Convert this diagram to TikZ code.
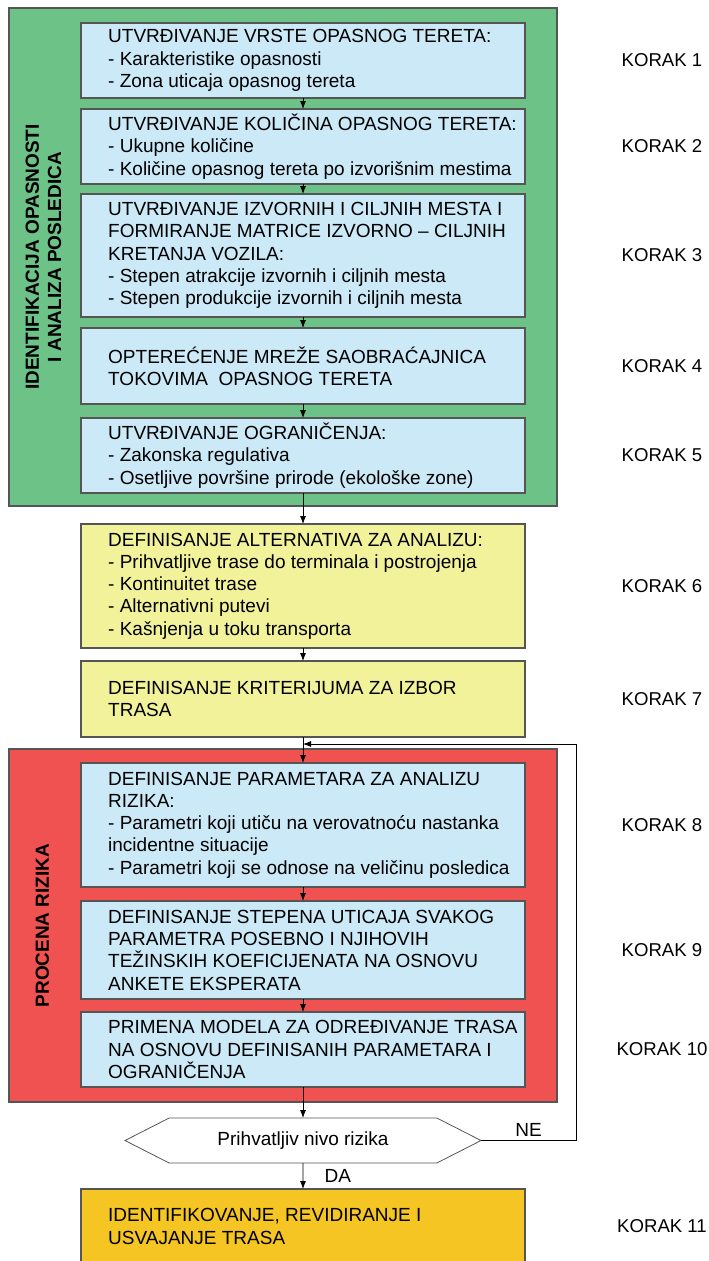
\documentclass[tikz,border=0pt]{standalone}
\usepackage{fontspec}
\setmainfont{Liberation Sans}
\usetikzlibrary{positioning,shapes.symbols,arrows.meta,backgrounds,fit}
\definecolor{zelena}{RGB}{108,194,135}
\definecolor{plava}{RGB}{204,233,248}
\definecolor{zuta}{RGB}{242,242,154}
\definecolor{crvena}{RGB}{240,82,82}
\definecolor{narandz}{RGB}{245,198,35}
\definecolor{ivica}{RGB}{85,85,85}
\newcommand{\velic}{\fontsize{19pt}{22.3pt}\selectfont}

\begin{document}
\begin{tikzpicture}[x=1pt, y=1pt, node distance=11pt, font=\velic,
    box/.style={draw=ivica, line width=1.2pt, minimum width=444pt, inner sep=0pt, outer sep=0pt},
    txt/.style={align=left, inner sep=0pt},
    korak/.style={inner sep=0pt, font=\fontsize{18.6pt}{22pt}\selectfont},
    okvir/.style={draw=ivica, line width=1.2pt, inner sep=0pt},
    vert/.style={rotate=90, align=center, font=\velic\bfseries, inner sep=0pt},
    hexa/.style={signal, signal to=east and west, draw=ivica, fill=white, outer sep=0pt,
        line width=0.8pt, minimum width=356pt, minimum height=45pt, signal pointer angle=54},
    arr/.style={-{Latex[length=8pt,width=6pt]}, line width=0.8pt}]
\useasboundingbox (0,0) rectangle (709,-1261);

% koraci 1-5
\node[box, fill=plava, minimum height=75pt] (k1) at (303,-60.5) {};
\node[box, fill=plava, minimum height=75pt, below=11pt of k1] (k2) {};
\node[box, fill=plava, minimum height=123pt, below=10pt of k2] (k3) {};
\node[box, fill=plava, minimum height=76pt, below=11pt of k3] (k4) {};
\node[box, fill=plava, minimum height=75pt, below=14pt of k4] (k5) {};
% koraci 6-7
\node[box, fill=zuta, minimum height=124pt, below=31pt of k5] (k6) {};
\node[box, fill=zuta, minimum height=76pt, below=13pt of k6] (k7) {};
% koraci 8-10
\node[box, fill=plava, minimum height=124pt, below=26pt of k7] (k8) {};
\node[box, fill=plava, minimum height=98pt, below=14pt of k8] (k9) {};
\node[box, fill=plava, minimum height=75pt, below=13pt of k9] (k10) {};
\node[hexa, below=31pt of k10] (hx) {Prihvatljiv nivo rizika};
\node[box, fill=narandz, minimum height=75pt, below=26pt of hx] (k11) {};

\begin{scope}[on background layer]
\node[okvir, fill=zelena, fit={([xshift=-72pt,yshift=15pt]k1.north west) ([xshift=32pt,yshift=-13pt]k5.south east)}] (zel) {};
\node[okvir, fill=crvena, fit={([xshift=-72pt,yshift=14pt]k8.north west) ([xshift=32pt,yshift=-15pt]k10.south east)}] (crv) {};
\end{scope}
\node[vert] (gz) at ([xshift=35pt]zel.west) {IDENTIFIKACIJA OPASNOSTI\\I ANALIZA POSLEDICA};
\node[vert] (gc) at ([xshift=34pt]crv.west) {PROCENA RIZIKA};

% tekst u kutijama
\node[txt, right=27pt of k1.west] (t1) {UTVRĐIVANJE VRSTE OPASNOG TERETA:\\- Karakteristike opasnosti\\- Zona uticaja opasnog tereta};
\node[txt, right=27pt of k2.west] (t2) {UTVRĐIVANJE KOLIČINA OPASNOG TERETA:\\- Ukupne količine\\- Količine opasnog tereta po izvorišnim mestima};
\node[txt, right=27pt of k3.west] (t3) {UTVRĐIVANJE IZVORNIH I CILJNIH MESTA I\\FORMIRANJE MATRICE IZVORNO – CILJNIH\\KRETANJA VOZILA:\\- Stepen atrakcije izvornih i ciljnih mesta\\- Stepen produkcije izvornih i ciljnih mesta};
\node[txt, right=27pt of k4.west] (t4) {OPTEREĆENJE MREŽE SAOBRAĆAJNICA\\TOKOVIMA~ OPASNOG TERETA};
\node[txt, right=27pt of k5.west] (t5) {UTVRĐIVANJE OGRANIČENJA:\\- Zakonska regulativa\\- Osetljive površine prirode (ekološke zone)};
\node[txt, right=27pt of k6.west] (t6) {DEFINISANJE ALTERNATIVA ZA ANALIZU:\\- Prihvatljive trase do terminala i postrojenja\\- Kontinuitet trase\\- Alternativni putevi\\- Kašnjenja u toku transporta};
\node[txt, right=27pt of k7.west] (t7) {DEFINISANJE KRITERIJUMA ZA IZBOR\\TRASA};
\node[txt, right=27pt of k8.west] (t8) {DEFINISANJE PARAMETARA ZA ANALIZU\\RIZIKA:\\- Parametri koji utiču na verovatnoću nastanka\\incidentne situacije\\- Parametri koji se odnose na veličinu posledica};
\node[txt, right=27pt of k9.west] (t9) {DEFINISANJE STEPENA UTICAJA SVAKOG\\PARAMETRA POSEBNO I NJIHOVIH\\TEŽINSKIH KOEFICIJENATA NA OSNOVU\\ANKETE EKSPERATA};
\node[txt, right=27pt of k10.west] (t10) {PRIMENA MODELA ZA ODREĐIVANJE TRASA\\NA OSNOVU DEFINISANIH PARAMETARA I\\OGRANIČENJA};
\node[txt, right=27pt of k11.west] (t11) {IDENTIFIKOVANJE, REVIDIRANJE I\\USVAJANJE TRASA};

% oznake koraka
\node[korak] (l1) at ([xshift=137pt]k1.east) {KORAK 1};
\node[korak] (l2) at ([xshift=137pt]k2.east) {KORAK 2};
\node[korak] (l3) at ([xshift=137pt]k3.east) {KORAK 3};
\node[korak] (l4) at ([xshift=137pt]k4.east) {KORAK 4};
\node[korak] (l5) at ([xshift=137pt]k5.east) {KORAK 5};
\node[korak] (l6) at ([xshift=137pt]k6.east) {KORAK 6};
\node[korak] (l7) at ([xshift=137pt]k7.east) {KORAK 7};
\node[korak] (l8) at ([xshift=137pt]k8.east) {KORAK 8};
\node[korak] (l9) at ([xshift=137pt]k9.east) {KORAK 9};
\node[korak] (l10) at ([xshift=137pt]k10.east) {KORAK 10};
\node[korak] (l11) at ([xshift=137pt]k11.east) {KORAK 11};

% strelice
\foreach \a/\b in {k1/k2,k2/k3,k3/k4,k4/k5,k5/k6,k6/k7,k7/k8,k8/k9,k9/k10,k10/hx}
  \draw[arr] (\a) -- (\b);
\draw[arr] (hx) -- node[right=18pt] (da) {DA} (k11);
\coordinate (spoj) at ([yshift=-7pt]k7.south);
\draw[arr] (hx.east) -- node[above] (ne) {NE} ++(95pt,0) |- (spoj);
\end{tikzpicture}
\end{document}
